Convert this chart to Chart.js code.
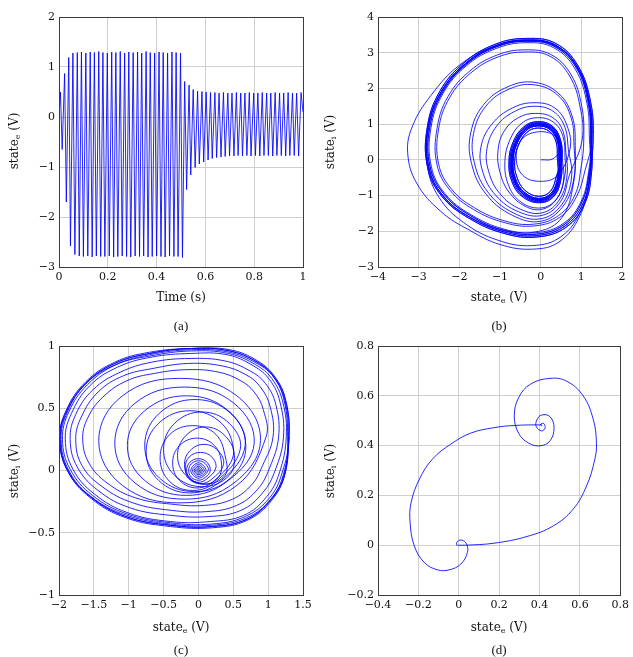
<!DOCTYPE html>
<html>
<head>
<meta charset="utf-8">
<script src="https://cdn.jsdelivr.net/npm/chart.js@4.4.1/dist/chart.umd.min.js"></script>
<style>
  body { margin: 0; background: #fff; }
  #page { position: relative; width: 633px; height: 657px; overflow: hidden; font-family: 'DejaVu Serif', serif; color: #111; }
  canvas { position: absolute; }
  .lbl { position: absolute; font-size: 12px; white-space: nowrap; transform: translate(-50%, -50%); }
  .rot { transform: translate(-50%, -50%) rotate(-90deg); }
  .cap { position: absolute; font-family: 'Liberation Serif', serif; font-size: 13px; transform: translate(-50%, -50%); }
  sub { font-size: 8px; vertical-align: -2px; line-height: 0; }
</style>
</head>
<body>
<div id="page">
  <canvas id="ca" width="316" height="320" style="left:0;top:0"></canvas>
  <canvas id="cb" width="316" height="320" style="left:317px;top:0"></canvas>
  <canvas id="cc" width="316" height="320" style="left:0;top:330px"></canvas>
  <canvas id="cd" width="316" height="320" style="left:317px;top:330px"></canvas>

  <div class="lbl" style="left:181px;top:297px">Time (s)</div>
  <div class="lbl rot" style="left:14px;top:141px">state<sub>e</sub> (V)</div>
  <div class="cap" style="left:181px;top:326px">(a)</div>

  <div class="lbl" style="left:499px;top:297px">state<sub>e</sub> (V)</div>
  <div class="lbl rot" style="left:330px;top:142px">state<sub>i</sub> (V)</div>
  <div class="cap" style="left:499px;top:326px">(b)</div>

  <div class="lbl" style="left:181px;top:627px">state<sub>e</sub> (V)</div>
  <div class="lbl rot" style="left:14px;top:471px">state<sub>i</sub> (V)</div>
  <div class="cap" style="left:181px;top:650px">(c)</div>

  <div class="lbl" style="left:499px;top:627px">state<sub>e</sub> (V)</div>
  <div class="lbl rot" style="left:330px;top:471px">state<sub>i</sub> (V)</div>
  <div class="cap" style="left:499px;top:650px">(d)</div>
</div>
<script>
// (a) time trace: peaks and troughs
const aTime = [0, 0.006, 0.013, 0.023, 0.030, 0.040, 0.047,
  0.057, 0.065, 0.075, 0.083, 0.092, 0.100, 0.110, 0.118, 0.128, 0.136, 0.145, 0.153, 0.163, 0.171,
  0.180, 0.188, 0.198, 0.206, 0.216, 0.224, 0.233, 0.241, 0.251, 0.259, 0.269, 0.277, 0.286, 0.294,
  0.304, 0.312, 0.322, 0.330, 0.339, 0.347, 0.357, 0.365, 0.374, 0.382, 0.392, 0.400, 0.410, 0.418,
  0.427, 0.435, 0.445, 0.453, 0.463, 0.471, 0.480, 0.488, 0.498, 0.506,
  0.515, 0.523, 0.533, 0.540, 0.550, 0.558, 0.568, 0.575, 0.586, 0.593, 0.603, 0.611, 0.621, 0.628,
  0.639, 0.646, 0.656, 0.664, 0.674, 0.681, 0.692, 0.699, 0.709, 0.717, 0.727, 0.734, 0.745, 0.752,
  0.762, 0.770, 0.780, 0.787, 0.798, 0.805, 0.815, 0.823, 0.833, 0.840, 0.851, 0.858, 0.868, 0.876,
  0.886, 0.893, 0.904, 0.911, 0.921, 0.929, 0.939, 0.946, 0.957, 0.964, 0.974, 0.982, 0.992, 1.0];
const aState = [0, 0.5, -0.65, 0.87, -1.7, 1.19, -2.58,
  1.28, -2.75, 1.29, -2.78, 1.30, -2.79, 1.28, -2.78, 1.30, -2.80, 1.29, -2.78, 1.31, -2.79,
  1.29, -2.79, 1.28, -2.78, 1.30, -2.80, 1.29, -2.79, 1.31, -2.78, 1.28, -2.79, 1.30, -2.80,
  1.29, -2.78, 1.30, -2.79, 1.28, -2.78, 1.31, -2.80, 1.29, -2.79, 1.28, -2.78, 1.30, -2.79,
  1.29, -2.80, 1.28, -2.78, 1.30, -2.79, 1.29, -2.79, 1.28, -2.81,
  0.71, -1.45, 0.64, -1.16, 0.55, -1.01, 0.52, -0.94, 0.51, -0.90, 0.50, -0.86, 0.49, -0.83,
  0.49, -0.81, 0.48, -0.80, 0.49, -0.79, 0.48, -0.78, 0.48, -0.78, 0.49, -0.77, 0.48, -0.78,
  0.48, -0.77, 0.49, -0.78, 0.48, -0.77, 0.48, -0.78, 0.49, -0.77, 0.48, -0.77, 0.48, -0.78,
  0.49, -0.77, 0.48, -0.77, 0.48, -0.78, 0.49, -0.77, 0.48, -0.77, 0.48, -0.78, 0.49, 0.1];

// (b) phase portrait, traced loop by loop [state_e, state_i]
const bStart = [[0,0],[0.3,0.03],[0.5,0.35],[0.35,0.68],[-0.1,0.78],[-0.48,0.55],[-0.6,0.05],[-0.45,-0.42],[-0.05,-0.6],[0.4,-0.45]];
const bGrow1 = [[0.72,0.3],[0.65,0.95],[0.35,1.45],[-0.15,1.6],[-0.7,1.45],[-1.2,1.0],[-1.47,0.35],[-1.42,-0.35],[-1.1,-1.0],[-0.55,-1.45],[0.05,-1.55],[0.5,-1.15],[0.7,-0.45]];
const bGrow2 = [[1.02,0.56],[0.97,1.48],[0.71,2.35],[0.23,2.9],[-0.39,3.02],[-1.05,2.88],[-1.71,2.44],[-2.24,1.74],[-2.51,0.86],[-2.51,-0.11],[-2.2,-0.81],[-1.63,-1.34],[-0.88,-1.71],[-0.17,-1.8],[0.44,-1.56],[0.84,-0.99],[0.99,-0.24]];
const bGrow3 = [[1.06,0.56],[1.01,1.5],[0.74,2.4],[0.25,2.95],[-0.39,3.08],[-1.06,2.94],[-1.74,2.49],[-2.28,1.77],[-2.55,0.87],[-2.55,-0.13],[-2.23,-0.85],[-1.65,-1.39],[-0.88,-1.76],[-0.16,-1.85],[0.47,-1.61],[0.88,-1.03],[1.1,-0.26]];
const bBandA = [[1.26,0.56],[1.2,1.6],[0.9,2.6],[0.35,3.22],[-0.35,3.36],[-1.1,3.2],[-1.85,2.7],[-2.45,1.9],[-2.76,0.9],[-2.75,-0.2],[-2.4,-1.0],[-1.75,-1.6],[-0.9,-2.02],[-0.1,-2.12],[0.6,-1.85],[1.05,-1.2],[1.22,-0.35]];
const bBandB = [[1.2,0.56],[1.14,1.57],[0.85,2.54],[0.32,3.14],[-0.36,3.28],[-1.09,3.12],[-1.82,2.64],[-2.4,1.86],[-2.7,0.89],[-2.69,-0.18],[-2.35,-0.95],[-1.72,-1.53],[-0.9,-1.94],[-0.12,-2.04],[0.56,-1.78],[1.0,-1.15],[1.18,-0.32]];
const bBandC = [[1.29,0.56],[1.23,1.61],[0.92,2.63],[0.37,3.26],[-0.35,3.4],[-1.11,3.24],[-1.87,2.73],[-2.48,1.92],[-2.79,0.9],[-2.78,-0.21],[-2.43,-1.02],[-1.77,-1.63],[-0.9,-2.06],[-0.09,-2.16],[0.62,-1.89],[1.08,-1.23],[1.25,-0.36]];
const bBandD = [[1.23,0.56],[1.17,1.59],[0.88,2.57],[0.33,3.18],[-0.35,3.32],[-1.1,3.16],[-1.83,2.67],[-2.42,1.88],[-2.73,0.9],[-2.72,-0.19],[-2.37,-0.97],[-1.73,-1.56],[-0.9,-1.98],[-0.11,-2.08],[0.58,-1.81],[1.02,-1.17],[1.2,-0.33]];
const bOuter = [[1.25,0.56],[1.2,1.6],[0.9,2.6],[0.35,3.22],[-0.35,3.34],[-1.15,3.18],[-2.0,2.65],[-2.7,1.8],[-3.15,0.95],[-3.27,0.2],[-3.05,-0.65],[-2.45,-1.45],[-1.75,-1.97],[-1.0,-2.37],[-0.2,-2.5],[0.45,-2.3],[0.95,-1.6],[1.2,-0.6]];
const bOuter2 = [[1.24,0.56],[1.19,1.6],[0.9,2.6],[0.35,3.2],[-0.35,3.33],[-1.1,3.17],[-1.85,2.68],[-2.45,1.88],[-2.77,0.9],[-2.78,-0.2],[-2.5,-1.05],[-1.9,-1.75],[-1.05,-2.25],[-0.2,-2.4],[0.5,-2.15],[1.0,-1.4],[1.2,-0.45]];
const bBandLast = [[1.25,0.56],[1.19,1.6],[0.9,2.59],[0.35,3.2],[-0.35,3.35],[-1.1,3.19],[-1.85,2.69],[-2.45,1.89],[-2.77,0.9],[-2.76,-0.2],[-2.41,-1.01],[-1.75,-1.6],[-0.9,-1.97],[-0.05,-2.0],[0.52,-1.62],[0.8,-0.7]];
const bDecay1 = [[0.85,0.4],[0.78,1.2],[0.45,1.85],[-0.15,2.17],[-0.8,2.05],[-1.4,1.55],[-1.72,0.75],[-1.7,-0.1],[-1.35,-0.95],[-0.7,-1.55],[0.0,-1.72],[0.55,-1.3],[0.82,-0.5]];
const bDecay2 = [[0.82,0.4],[0.75,1.17],[0.43,1.8],[-0.15,2.1],[-0.78,1.98],[-1.35,1.5],[-1.65,0.74],[-1.63,-0.08],[-1.3,-0.9],[-0.68,-1.48],[0.0,-1.65],[0.52,-1.25],[0.76,-0.48]];
const bDecay3 = [[0.68,0.3],[0.6,0.9],[0.32,1.35],[-0.15,1.5],[-0.65,1.35],[-1.08,0.95],[-1.32,0.32],[-1.28,-0.32],[-1.0,-0.95],[-0.5,-1.38],[0.05,-1.48],[0.47,-1.1],[0.65,-0.42]];
const bDecay4 = [[0.62,0.2],[0.55,0.8],[0.3,1.18],[-0.12,1.3],[-0.55,1.18],[-0.9,0.8],[-1.05,0.25],[-1.0,-0.35],[-0.78,-0.9],[-0.38,-1.3],[0.05,-1.38],[0.42,-1.05],[0.6,-0.4]];
const bInner5 = [[0.6,0.05],[0.55,0.65],[0.32,1.05],[-0.08,1.18],[-0.47,1.02],[-0.76,0.55],[-0.88,-0.05],[-0.8,-0.68],[-0.52,-1.15],[-0.05,-1.35],[0.35,-1.15],[0.56,-0.6]];
const bInner4 = [[0.53,0.05],[0.48,0.59],[0.28,0.95],[-0.08,1.07],[-0.42,0.92],[-0.68,0.49],[-0.78,-0.05],[-0.71,-0.6],[-0.46,-1.02],[-0.05,-1.2],[0.31,-1.04],[0.5,-0.54]];
const bInner7 = [[0.51,0.05],[0.465,0.575],[0.27,0.925],[-0.08,1.04],[-0.405,0.895],[-0.655,0.475],[-0.755,-0.05],[-0.685,-0.58],[-0.445,-0.99],[-0.05,-1.17],[0.3,-1.01],[0.48,-0.525]];
const bInner2 = [[0.49,0.05],[0.45,0.56],[0.26,0.9],[-0.08,1.01],[-0.39,0.87],[-0.63,0.46],[-0.73,-0.05],[-0.66,-0.56],[-0.43,-0.96],[-0.05,-1.14],[0.29,-0.98],[0.46,-0.51]];
const bInner6 = [[0.47,0.05],[0.43,0.545],[0.245,0.875],[-0.08,0.98],[-0.375,0.845],[-0.61,0.445],[-0.705,-0.05],[-0.64,-0.545],[-0.415,-0.935],[-0.05,-1.11],[0.275,-0.955],[0.44,-0.495]];
const bInner1 = [[0.45,0.05],[0.41,0.53],[0.23,0.85],[-0.08,0.95],[-0.36,0.82],[-0.59,0.43],[-0.68,-0.05],[-0.62,-0.53],[-0.4,-0.91],[-0.05,-1.08],[0.26,-0.93],[0.42,-0.48]];
const bInner3 = [[0.41,0.05],[0.38,0.5],[0.21,0.8],[-0.08,0.89],[-0.34,0.77],[-0.55,0.4],[-0.64,-0.05],[-0.58,-0.5],[-0.38,-0.86],[-0.05,-1.02],[0.24,-0.88],[0.39,-0.45]];
const bEnd = [[0.45,0.05]];

// (c) spiral from the origin out to the limit cycle
const cCore = [[0,0],[0.02,0],[0,0.011],[-0.02,0],[0,-0.011],[0.04,0],[0,0.022],[-0.04,0],[0,-0.022],
  [0.06,0],[0,0.034],[-0.06,0],[0,-0.034],[0.085,0],[0,0.048],[-0.085,0],[0,-0.048],
  [0.11,0],[0,0.062],[-0.11,0],[0,-0.062],
  [0.14,0],[0.099,0.055],[0,0.078],[-0.099,0.055],[-0.14,0],[-0.099,-0.055],[0,-0.078],[0.099,-0.055],
  [0.17,0],[0.121,0.067],[0,0.095],[-0.121,0.067],[-0.17,0],[-0.121,-0.067],[0,-0.095],[0.121,-0.067]];
const cMid = [
  [0.25,0.02],[0.19,0.11],[0.03,0.145],[-0.13,0.11],[-0.19,0.02],[-0.13,-0.07],[0.03,-0.105],[0.19,-0.07],
  [0.36,0.05],[0.28,0.16],[0.08,0.21],[-0.12,0.16],[-0.2,0.05],[-0.12,-0.06],[0.08,-0.11],[0.28,-0.06],
  [0.33,0.06],[0.23,0.2],[-0.02,0.26],[-0.27,0.2],[-0.37,0.06],[-0.27,-0.08],[-0.02,-0.14],[0.23,-0.08],
  [0.5,0.12],[0.38,0.28],[0.1,0.35],[-0.18,0.28],[-0.3,0.12],[-0.18,-0.04],[0.1,-0.11],[0.38,-0.04],
  [0.39,0.1],[0.25,0.29],[-0.08,0.36],[-0.41,0.29],[-0.55,0.1],[-0.41,-0.09],[-0.08,-0.16],[0.25,-0.09],
  [0.6,0.17],[0.44,0.38],[0.05,0.47],[-0.34,0.38],[-0.5,0.17],[-0.34,-0.04],[0.05,-0.13],[0.44,-0.04],
  [0.51,0.15],[0.33,0.38],[-0.12,0.48],[-0.57,0.38],[-0.75,0.15],[-0.57,-0.08],[-0.12,-0.18],[0.33,-0.08],
  [0.67,0.2],[0.46,0.46],[-0.05,0.57],[-0.56,0.46],[-0.77,0.2],[-0.56,-0.06],[-0.05,-0.17],[0.46,-0.06],
  [0.68,0.2],[0.43,0.48],[-0.17,0.6],[-0.77,0.48],[-1.02,0.2],[-0.77,-0.08],[-0.17,-0.2],[0.43,-0.08],
  [0.8,0.22],[0.51,0.54],[-0.2,0.67],[-0.91,0.54],[-1.2,0.22],[-0.91,-0.1],[-0.2,-0.23],[0.51,-0.1],
  [0.89,0.24],[0.55,0.6],[-0.27,0.74],[-1.09,0.6],[-1.43,0.24],[-1.09,-0.12],[-0.27,-0.26],[0.55,-0.12]];
const cGrow = [
  [0.97,0.27],[0.93,0.49],[0.8,0.63],[0.61,0.72],[0.29,0.79],[-0.15,0.81],[-0.63,0.78],[-1.03,0.72],[-1.37,0.59],[-1.59,0.42],
  [-1.66,0.25],[-1.57,0.06],[-1.31,-0.1],[-0.9,-0.22],[-0.39,-0.27],[0.09,-0.28],[0.49,-0.23],[0.77,-0.11],[0.92,0.04],
  [1.07,0.27],[1.03,0.51],[0.89,0.67],[0.68,0.77],[0.34,0.84],[-0.14,0.86],[-0.65,0.82],[-1.08,0.76],[-1.44,0.63],[-1.68,0.43],
  [-1.76,0.25],[-1.67,0.04],[-1.38,-0.13],[-0.94,-0.26],[-0.39,-0.32],[0.12,-0.33],[0.55,-0.28],[0.85,-0.15],[1.02,0.02],
  [1.15,0.27],[1.11,0.53],[0.96,0.7],[0.74,0.8],[0.38,0.88],[-0.12,0.9],[-0.67,0.87],[-1.12,0.79],[-1.51,0.65],[-1.76,0.45],
  [-1.84,0.25],[-1.74,0.03],[-1.44,-0.16],[-0.98,-0.3],[-0.4,-0.36],[0.15,-0.37],[0.61,-0.32],[0.92,-0.18],[1.1,0.0]];
const cCycle = [
  [1.22,0.27],[1.17,0.55],[1.02,0.73],[0.79,0.84],[0.41,0.93],[-0.11,0.94],[-0.68,0.91],[-1.16,0.83],[-1.56,0.68],[-1.82,0.46],
  [-1.91,0.25],[-1.8,0.01],[-1.49,-0.19],[-1.01,-0.34],[-0.4,-0.41],[0.17,-0.41],[0.65,-0.36],[0.98,-0.21],[1.16,-0.02],
  [1.26,0.27],[1.21,0.55],[1.05,0.74],[0.82,0.85],[0.43,0.94],[-0.11,0.96],[-0.69,0.92],[-1.18,0.85],[-1.59,0.69],[-1.86,0.47],
  [-1.95,0.25],[-1.84,0.01],[-1.52,-0.2],[-1.02,-0.35],[-0.4,-0.42],[0.19,-0.43],[0.67,-0.37],[1.02,-0.22],[1.2,-0.02],
  [1.3,0.27],[1.25,0.56],[1.09,0.75],[0.85,0.87],[0.45,0.96],[-0.1,0.98],[-0.7,0.94],[-1.2,0.86],[-1.62,0.7],[-1.9,0.47],
  [-1.99,0.25],[-1.88,0.0],[-1.55,-0.21],[-1.04,-0.37],[-0.4,-0.44],[0.2,-0.45],[0.7,-0.39],[1.05,-0.23],[1.24,-0.03],
  [1.28,0.27],[1.23,0.56],[1.08,0.75],[0.84,0.86],[0.44,0.95],[-0.1,0.97],[-0.7,0.93],[-1.19,0.85],[-1.61,0.7],[-1.88,0.47],
  [-1.97,0.25],[-1.86,0.0],[-1.54,-0.21],[-1.03,-0.36],[-0.4,-0.43],[0.19,-0.44],[0.69,-0.38],[1.04,-0.23],[1.22,-0.03],
  [1.3,0.28],[1.25,0.57],[1.1,0.75],[0.85,0.88],[0.45,0.97],[-0.1,0.98],[-0.7,0.95],[-1.2,0.87],[-1.62,0.71],[-1.9,0.48],
  [-1.99,0.26],[-1.88,0.0],[-1.55,-0.22],[-1.04,-0.38],[-0.4,-0.45],[0.2,-0.46],[0.7,-0.4],[1.05,-0.24],[1.24,-0.03],
  [1.29,0.27],[1.24,0.56],[1.08,0.75],[0.84,0.87],[0.45,0.96],[-0.1,0.98],[-0.7,0.94],[-1.2,0.86],[-1.61,0.7],[-1.89,0.47],
  [-1.98,0.25],[-1.87,0.0],[-1.55,-0.21],[-1.04,-0.37],[-0.4,-0.44],[0.2,-0.45],[0.7,-0.39],[1.04,-0.23],[1.23,-0.03],[1.3,0.27]];

// (d) switch between the two fixed points
const dLeave = [[0,0],[0.034,0.0],[0.174,0.008],[0.338,0.035],[0.469,0.078],[0.567,0.145],[0.633,0.238],[0.674,0.345],
  [0.682,0.412],[0.666,0.506],[0.616,0.6],[0.534,0.659],[0.452,0.67],[0.354,0.646],[0.297,0.593],[0.275,0.519],
  [0.297,0.449],[0.346,0.41],[0.403,0.399],[0.452,0.419],[0.472,0.472],[0.452,0.516],[0.411,0.523],[0.387,0.503],
  [0.384,0.476],[0.411,0.459],[0.428,0.472],[0.42,0.489],[0.405,0.485],[0.41,0.48],[0.412,0.483]];
const dReturn = [[0.28,0.481],[0.174,0.472],[0.059,0.45],[-0.039,0.406],[-0.13,0.346],[-0.195,0.265],[-0.236,0.171],
  [-0.241,0.091],[-0.22,-0.003],[-0.17,-0.07],[-0.105,-0.099],[-0.048,-0.099],[0.01,-0.076],[0.043,-0.029],
  [0.039,0.004],[0.018,0.02],[-0.007,0.015],[-0.01,0.0],[0,0]];

const bPath = [bStart, bGrow1, bGrow2, bGrow3, bBandA, bBandD, bBandC, bOuter, bBandA, bBandB, bOuter2, bBandD, bBandC,
  bBandLast, bDecay1, bDecay2, bDecay3, bDecay4, bInner5, bInner4, bInner7, bInner2, bInner6, bInner1, bInner3,
  bInner4, bInner7, bInner2, bInner6, bInner1, bInner3, bInner2, bInner6, bInner1, bEnd];

const toXY = arr => arr.map(p => ({ x: p[0], y: p[1] }));
const aPoints = aTime.map((t, i) => ({ x: t, y: aState[i] }));
const bPoints = toXY([].concat(...bPath));
const cPoints = toXY([].concat(cCore, cMid, cGrow, cCycle));
const dPoints = toXY([].concat(dLeave, dReturn));

const fmt = v => {
  const r = Math.round(v * 100) / 100;
  return r < 0 ? '\u2212' + String(-r) : String(r);
};

const frame = {
  id: 'frame',
  afterDraw(chart) {
    const a = chart.chartArea, c = chart.ctx;
    c.save();
    c.strokeStyle = '#3c3c3c';
    c.lineWidth = 1;
    c.strokeRect(Math.round(a.left) + 0.5, Math.round(a.top) + 0.5,
      Math.round(a.right - a.left), Math.round(a.bottom - a.top));
    c.restore();
  }
};

const tickFont = { family: 'DejaVu Serif', size: 11 };

function panel(id, points, xr, yr, opts) {
  return new Chart(document.getElementById(id), {
    type: 'scatter',
    data: {
      datasets: [{
        data: points,
        showLine: true,
        borderColor: 'rgba(0,0,255,0.85)',
        borderWidth: 1,
        borderJoinStyle: 'round',
        pointRadius: 0,
        tension: opts.tension,
        fill: false
      }]
    },
    options: {
      responsive: false,
      animation: false,
      events: [],
      layout: { padding: { top: opts.top, right: opts.right, left: 0, bottom: 0 } },
      plugins: { legend: { display: false }, tooltip: { enabled: false } },
      scales: {
        x: {
          type: 'linear', min: xr[0], max: xr[1],
          ticks: { stepSize: xr[2], callback: fmt, padding: 4, color: '#111', font: tickFont, maxRotation: 0, autoSkip: false },
          grid: { color: '#cfcfcf', drawTicks: false },
          border: { display: false },
          afterFit: s => { s.height = opts.xh; }
        },
        y: {
          type: 'linear', min: yr[0], max: yr[1],
          ticks: { stepSize: yr[2], callback: fmt, padding: 4, color: '#111', font: tickFont, autoSkip: false },
          grid: { color: '#cfcfcf', drawTicks: false },
          border: { display: false },
          afterFit: s => { s.width = opts.yw; }
        }
      }
    },
    plugins: [frame]
  });
}

panel('ca', aPoints, [0, 1, 0.2], [-3, 2, 1], { tension: 0, top: 17, right: 13, yw: 59, xh: 53 });
panel('cb', bPoints, [-4, 2, 1], [-3, 4, 1], { tension: 0.4, top: 17, right: 11, yw: 61, xh: 53 });
panel('cc', cPoints, [-2, 1.5, 0.5], [-1, 1, 0.5], { tension: 0.4, top: 16, right: 13, yw: 59, xh: 55 });
panel('cd', dPoints, [-0.4, 0.8, 0.2], [-0.2, 0.8, 0.2], { tension: 0.4, top: 16, right: 11, yw: 61, xh: 55 });
</script>
</body>
</html>
